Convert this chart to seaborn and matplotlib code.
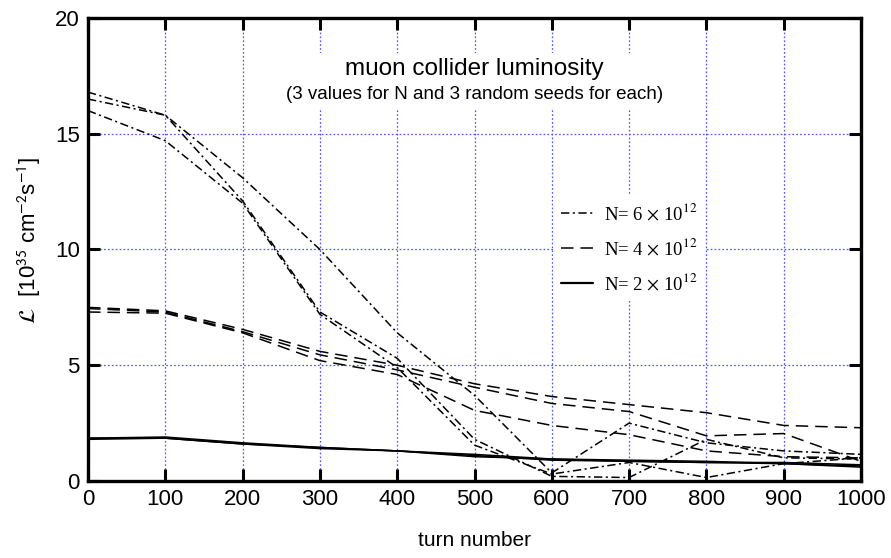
import pandas as pd
import matplotlib
matplotlib.use("Agg")
import matplotlib.pyplot as plt
import seaborn as sns
from matplotlib.lines import Line2D
from matplotlib.font_manager import FontProperties
from matplotlib.offsetbox import TextArea, VPacker, AnchoredOffsetbox

# turn numbers (sampled every 100 turns)
turns = [0, 100, 200, 300, 400, 500, 600, 700, 800, 900, 1000]

# luminosity in 1e35 cm^-2 s^-1, N = 6e12, three seeds
n6_seed1 = [16.8, 15.8, 13.1, 10.0, 6.4, 3.7, 0.35, 2.5, 1.65, 1.3, 1.15]
n6_seed2 = [16.5, 15.8, 12.1, 7.3, 5.3, 1.8, 0.2, 0.15, 1.8, 1.0, 0.95]
n6_seed3 = [16.0, 14.7, 12.0, 7.2, 4.9, 1.55, 0.3, 0.8, 0.15, 0.75, 1.0]

# N = 4e12
n4_seed1 = [7.5, 7.35, 6.55, 5.6, 5.0, 4.2, 3.65, 3.3, 2.95, 2.4, 2.3]
n4_seed2 = [7.45, 7.3, 6.45, 5.45, 4.8, 4.05, 3.35, 3.0, 1.95, 2.05, 0.85]
n4_seed3 = [7.3, 7.25, 6.4, 5.2, 4.6, 3.05, 2.4, 2.0, 1.3, 1.05, 1.0]

# N = 2e12
n2_seed1 = [1.85, 1.9, 1.65, 1.45, 1.3, 1.15, 0.95, 0.9, 0.85, 0.75, 0.65]
n2_seed2 = [1.85, 1.85, 1.6, 1.45, 1.3, 1.05, 0.95, 0.85, 0.8, 0.8, 0.7]
n2_seed3 = [1.8, 1.85, 1.6, 1.4, 1.3, 1.1, 0.9, 0.85, 0.8, 0.75, 0.6]

lab6 = r"N= 6 $\times$ 10$^{12}$"
lab4 = r"N= 4 $\times$ 10$^{12}$"
lab2 = r"N= 2 $\times$ 10$^{12}$"

series = {
    (lab6, 1): n6_seed1, (lab6, 2): n6_seed2, (lab6, 3): n6_seed3,
    (lab4, 1): n4_seed1, (lab4, 2): n4_seed2, (lab4, 3): n4_seed3,
    (lab2, 1): n2_seed1, (lab2, 2): n2_seed2, (lab2, 3): n2_seed3,
}
rows = []
for (lab, seed), vals in series.items():
    for t, v in zip(turns, vals):
        rows.append({"turn": t, "lum": v, "N": lab, "seed": seed})
df = pd.DataFrame(rows)

sns.set_style("ticks")
plt.rcParams["font.family"] = ["Liberation Sans", "DejaVu Sans"]
plt.rcParams["lines.scale_dashes"] = False
for k in ["axes.edgecolor", "text.color", "axes.labelcolor", "xtick.color", "ytick.color"]:
    plt.rcParams[k] = "black"

dash6 = (6, 2.5, 1.5, 2.5)
dash4 = (9, 5)

fig = plt.figure(figsize=(8.91, 5.58), dpi=100)
ax = fig.add_axes([88 / 891, 1 - 481 / 558, 773 / 891, 463 / 558])

sns.lineplot(data=df, x="turn", y="lum", style="N", units="seed", estimator=None,
             style_order=[lab6, lab4, lab2],
             dashes={lab6: dash6, lab4: dash4, lab2: ""},
             color="black", lw=1.1, legend=False, ax=ax, zorder=3)

ax.set_xlim(0, 1000)
ax.set_ylim(0, 20)
ax.set_xticks(range(0, 1001, 100))
ax.set_yticks(range(0, 21, 5))
ax.grid(True, color="#4f4fff", linestyle=(0, (1.2, 1.6)), lw=0.9)
ax.tick_params(direction="in", length=8.5, width=2.2, top=True, right=True,
               labelsize=16, pad=6)
for s in ax.spines.values():
    s.set_linewidth(2.4)

ax.set_xlabel("turn number", fontsize=15, labelpad=15)
ax.set_ylabel(r"$\mathcal{L}$  [10$^{35}$ cm$^{-2}$s$^{-1}$]", fontsize=16,
              math_fontfamily="stixsans")
ax.yaxis.set_label_coords(-0.058, 0.52)

# title block with white background
t1 = TextArea("muon collider luminosity", textprops=dict(fontsize=17.5))
t2 = TextArea("(3 values for N and 3 random seeds for each)", textprops=dict(fontsize=13.5))
tbox = VPacker(children=[t1, t2], align="center", pad=0, sep=4)
anch = AnchoredOffsetbox(loc="center", child=tbox, pad=0.4, frameon=True,
                         bbox_to_anchor=(0.5, 0.865), bbox_transform=ax.transAxes,
                         borderpad=0)
anch.patch.set_facecolor("white")
anch.patch.set_edgecolor("none")
anch.set_zorder(5)
ax.add_artist(anch)

handles = [
    Line2D([], [], color="black", lw=1.1, dashes=dash6),
    Line2D([], [], color="black", lw=1.1, dashes=dash4),
    Line2D([], [], color="black", lw=1.6),
]
leg = ax.legend(handles, [lab6, lab4, lab2], loc="center",
                bbox_to_anchor=(0.70, 0.503),
                prop=FontProperties(family="Liberation Serif", size=13.5, math_fontfamily="stix"),
                frameon=True, fancybox=False, framealpha=1, edgecolor="none",
                handlelength=1.7, handletextpad=0.6, labelspacing=0.75, borderpad=0.4)
leg.set_zorder(5)

fig.savefig("out.png", dpi=100)
